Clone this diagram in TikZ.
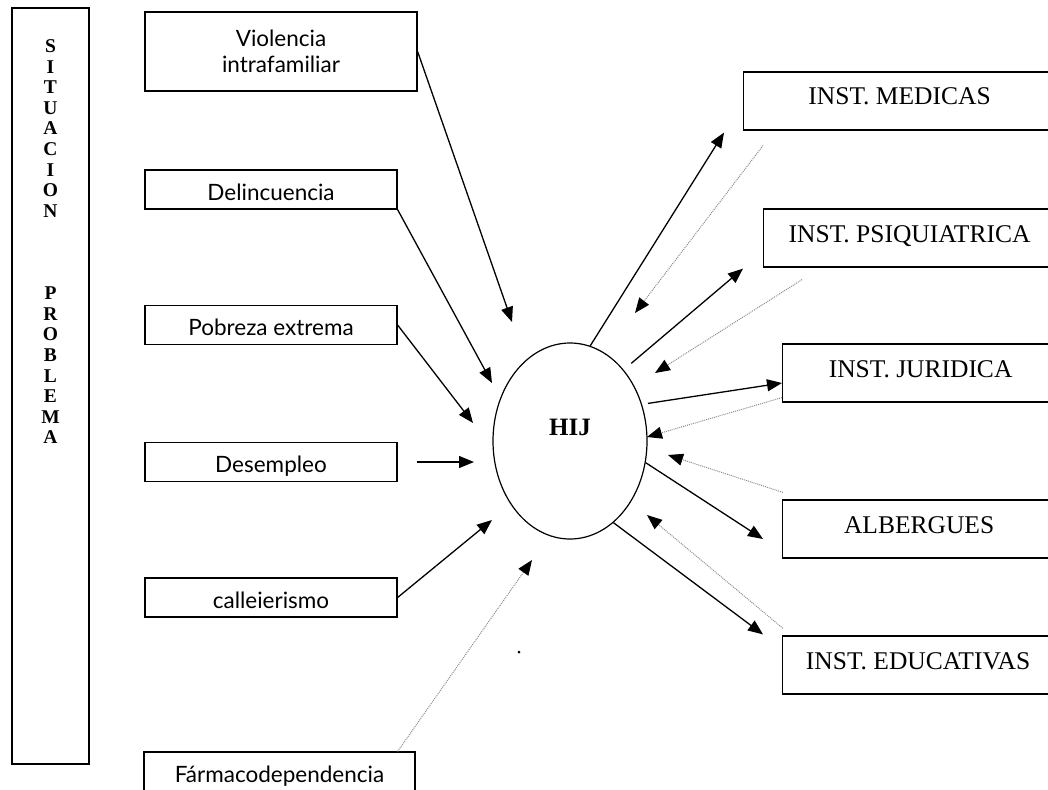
\documentclass[tikz,border=0pt]{standalone}
\usepackage{fontspec}
\setmainfont{Liberation Serif}
\newfontfamily\boxfont{Lato}
\usetikzlibrary{shapes.geometric, arrows.meta, positioning}

\begin{document}
\begin{tikzpicture}[x=1pt,y=-1pt,
    lbox/.style={draw, line width=1.2pt, minimum width=252pt, inner ysep=0pt,
                 text height=30pt, text depth=9pt, font=\boxfont\fontsize{22.5}{26}\selectfont},
    rbox/.style={draw, line width=1.2pt, anchor=west, inner ysep=0pt,
                 text height=33pt, text depth=25pt, font=\fontsize{25.5}{30}\selectfont},
    hijell/.style={draw, ellipse, line width=1.2pt, minimum width=154pt, minimum height=196pt,
                 inner sep=0pt, text height=17pt, text depth=29pt, font=\bfseries\fontsize{25}{28}\selectfont},
    arr/.style={-{Triangle[length=15pt,width=12pt]}, line width=1.3pt},
    retarr/.style={-{Triangle[length=15pt,width=12pt,color=black]}, draw=black!45, densely dotted, line width=1pt}]
      \useasboundingbox (0,0) rectangle (1048,789);
      \clip (0,0) rectangle (1048,789);

      \node[draw, line width=1.2pt, minimum width=77pt, minimum height=756pt] (sit) at (50.5,386) {};
      \node[inner sep=0pt, align=center, font=\bfseries\fontsize{19.5}{20.6}\selectfont] (sitletters) [below=32pt of sit.north]
            {S\\I\\T\\U\\A\\C\\I\\O\\N\\~\\~\\~\\P\\R\\O\\B\\L\\E\\M\\A};

      \node[draw, line width=1.2pt, minimum width=272pt, minimum height=79pt, align=center,
            font=\boxfont\fontsize{22.5}{26}\selectfont] (viol) at (281,51.5) {Violencia\\intrafamiliar};
      \node[lbox] (delin) at (271,189.5) {Delincuencia};
      \node[lbox] (pobre) at (271,325) {Pobreza extrema};
      \node[lbox] (desem) at (271,462) {Desempleo};
      \node[lbox] (calle) at (271,597.5) {calleierismo};
      \node[lbox, minimum width=271pt] (farma) at (279.5,771.5) {Fármacodependencia};

      \node[hijell] (hij) at (570,441) {HIJ};

      \node[rbox, minimum width=312pt] (med) at (743,101) {INST. MEDICAS};
      \node[rbox, minimum width=292pt] (psiq) at (763,238) {INST. PSIQUIATRICA};
      \node[rbox, minimum width=276pt] (jur) at (782,373) {INST. JURIDICA};
      \node[rbox, minimum width=273pt] (alb) at (782,529) {ALBERGUES};
      \node[rbox, minimum width=271pt] (edu) at (782,665) {INST. EDUCATIVAS};

      \coordinate (violtip) at (512,322);
      \coordinate (delintip) at (492,383);
      \coordinate (pobretip) at (473,423);
      \coordinate (desemtip) at (474,462);
      \coordinate (calletip) at (492,520);
      \coordinate (farmatip) at (532,560);

      \draw[arr] (viol.east) -- (violtip);
      \draw[arr] (delin.south east) -- (delintip);
      \draw[arr] (pobre.east) -- (pobretip);
      \draw[arr, shorten <=19pt] (desem.east) -- (desemtip);
      \draw[arr] (calle.east) -- (calletip);
      \draw[retarr] ([shift={(-18,0)}]farma.north east) -- (farmatip);

      \coordinate (medret) at (635,313);
      \coordinate (psiqret) at (655,373);
      \coordinate (jurret) at (647,437);
      \coordinate (albret) at (668,455);
      \coordinate (eduret) at (647,515);

      \draw[arr] (hij.78) -- ([shift={(-19,2)}]med.south west);
      \draw[retarr] ([shift={(20,15)}]med.south west) -- (medret);
      \draw[arr, shorten <=10pt] (hij.53) -- ([shift={(-20,1)}]psiq.south west);
      \draw[retarr] ([shift={(39,12)}]psiq.south west) -- (psiqret);
      \draw[arr, shorten <=6pt] (hij.27) -- ([shift={(0,10)}]jur.west);
      \draw[retarr] ([shift={(0,-5)}]jur.south west) -- (jurret);
      \draw[arr] (hij.-16) -- ([shift={(-19,10)}]alb.west);
      \draw[retarr] ([shift={(1,-7)}]alb.north west) -- (albret);
      \draw[arr] (hij.-62) -- ([shift={(-19,-1)}]edu.north west);
      \draw[retarr] ([shift={(1,-7)}]edu.north west) -- (eduret);

      \fill (519,652) circle (1.5pt);
\end{tikzpicture}
\end{document}
